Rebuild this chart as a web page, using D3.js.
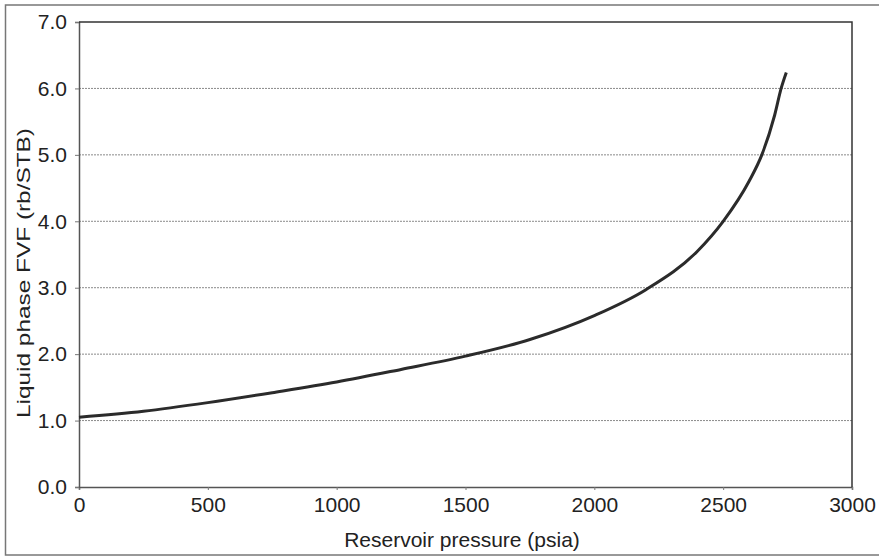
<!DOCTYPE html>
<meta charset="utf-8">
<style>
  body { margin: 0; background: #fff; }
  svg { display: block; font-family: "Liberation Sans", Arial, Helvetica, sans-serif; }
  .grid line { stroke: #8a8a8a; stroke-width: 1; stroke-dasharray: 2,1; }
</style>
<svg id="chart" width="879" height="556"></svg>
<script src="https://d3js.org/d3.v7.min.js"></script>
<script>
// Liquid phase FVF vs reservoir pressure
var pressure = [0, 250, 500, 750, 1000, 1250, 1500, 1750, 2000, 2200, 2400, 2500, 2600, 2650, 2700, 2725, 2745];
var fvf      = [1.05, 1.14, 1.27, 1.42, 1.58, 1.77, 1.97, 2.22, 2.58, 2.97, 3.55, 4.0, 4.6, 5.0, 5.6, 6.0, 6.24];
var xTicks = [0, 500, 1000, 1500, 2000, 2500, 3000];
var yTicks = [0, 1, 2, 3, 4, 5, 6, 7];

var svg = d3.select("#chart");
var m = { left: 79, top: 22, right: 852, bottom: 487 };

var x = d3.scaleLinear().domain([0, 3000]).range([m.left, m.right]);
var y = d3.scaleLinear().domain([0, 7]).range([m.bottom, m.top]);

// outer frame
svg.append("rect")
  .attr("x", 5.5).attr("y", 5).attr("width", 880).attr("height", 550)
  .attr("fill", "none").attr("stroke", "#777").attr("stroke-width", 1.5);

// gridlines
svg.append("g").attr("class", "grid")
  .selectAll("line").data(yTicks.slice(1, -1)).enter().append("line")
  .attr("x1", m.left).attr("x2", m.right)
  .attr("y1", function (d) { return y(d); }).attr("y2", function (d) { return y(d); });

// axes
var xAxis = svg.append("g").attr("transform", "translate(0," + m.bottom + ")")
  .call(d3.axisBottom(x).tickValues(xTicks).tickFormat(d3.format("d")).tickSize(3).tickPadding(7));
var yAxis = svg.append("g").attr("transform", "translate(" + m.left + ",0)")
  .call(d3.axisLeft(y).tickValues(yTicks).tickFormat(d3.format(".1f")).tickSize(4).tickPadding(8));

[xAxis, yAxis].forEach(function (a) {
  a.select(".domain").attr("stroke", "#555").attr("stroke-width", 1.5);
  a.selectAll(".tick line").attr("stroke", "#777");
  a.selectAll("text").attr("font-size", 21).attr("fill", "#222");
});
xAxis.selectAll("text").attr("dy", "0.71em");

// top and right frame of plot area
svg.append("path")
  .attr("d", "M" + m.left + "," + m.top + "H" + m.right + "V" + m.bottom)
  .attr("fill", "none").attr("stroke", "#333").attr("stroke-width", 1.5);

// curve
var line = d3.line()
  .x(function (d, i) { return x(pressure[i]); })
  .y(function (d) { return y(d); })
  .curve(d3.curveMonotoneX);
svg.append("path").datum(fvf)
  .attr("d", line)
  .attr("fill", "none").attr("stroke", "#2b2b2b").attr("stroke-width", 3);

// axis titles
svg.append("text")
  .attr("x", 462).attr("y", 547)
  .attr("text-anchor", "middle").attr("font-size", 21).attr("fill", "#222")
  .text("Reservoir pressure (psia)");
svg.append("text")
  .attr("transform", "translate(30,273)rotate(-90)")
  .attr("text-anchor", "middle").attr("font-size", 18).attr("fill", "#222")
  .attr("textLength", 290).attr("lengthAdjust", "spacingAndGlyphs")
  .text("Liquid phase FVF (rb/STB)");
</script>
